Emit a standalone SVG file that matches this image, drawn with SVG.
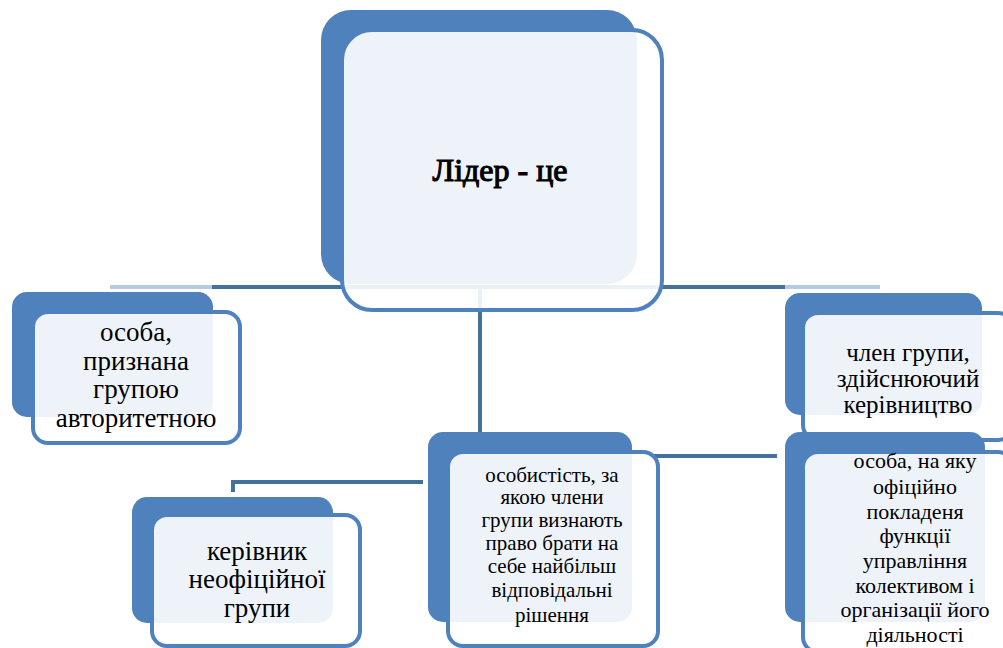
<svg xmlns="http://www.w3.org/2000/svg" width="1003" height="648" viewBox="0 0 1003 648">
<rect width="1003" height="648" fill="#FFFFFF"/>
<g id="connectors" fill="none" stroke-width="4">
<path stroke="#41719C" d="M212 287 H785"/>
<path stroke="#B7CAE2" d="M110 287 H212"/>
<path stroke="#B7CAE2" d="M785 287 H880"/>
<path stroke="#41719C" d="M480 287 V432"/>
<path stroke="#41719C" d="M652 456 H777"/>
<path stroke="#41719C" d="M423 482 H233 V492"/>
</g>
<g id="node-root">
<rect fill="#4F81BD" x="321" y="10" width="316" height="274" rx="30"/>
<rect fill="#FFFFFF" fill-opacity="0.9" stroke="#4F81BD" stroke-width="4" x="342" y="30" width="320" height="280" rx="30"/>
<text font-family="'Liberation Serif'" text-anchor="middle" x="500" y="181" font-size="32" stroke="#000" stroke-width="1.1">Лідер - це</text>
</g>
<g id="node-left">
<rect fill="#4F81BD" x="12" y="292" width="201" height="125" rx="15"/>
<rect fill="#FFFFFF" fill-opacity="0.9" stroke="#4F81BD" stroke-width="4" x="33" y="312" width="207" height="131" rx="15"/>
<text font-family="'Liberation Serif'" text-anchor="middle" font-size="27"><tspan font-family="'Liberation Serif'" x="136" y="341">особа,</tspan><tspan font-family="'Liberation Serif'" x="136" y="370">признана</tspan><tspan font-family="'Liberation Serif'" x="136" y="398">групою</tspan><tspan font-family="'Liberation Serif'" x="136" y="427">авторитетною</tspan></text>
</g>
<g id="node-right-top">
<rect fill="#4F81BD" x="785" y="293" width="197" height="122" rx="15"/>
<rect fill="#FFFFFF" fill-opacity="0.9" stroke="#4F81BD" stroke-width="4" x="803" y="313" width="210" height="127" rx="15"/>
<text font-family="'Liberation Serif'" text-anchor="middle" font-size="25"><tspan font-family="'Liberation Serif'" x="908" y="361">член групи,</tspan><tspan font-family="'Liberation Serif'" x="908" y="387">здійснюючий</tspan><tspan font-family="'Liberation Serif'" x="908" y="413">керівництво</tspan></text>
</g>
<g id="node-right-bottom">
<rect fill="#4F81BD" x="785" y="432" width="200" height="190" rx="15"/>
<rect fill="#FFFFFF" fill-opacity="0.9" stroke="#4F81BD" stroke-width="4" x="803" y="452" width="210" height="200" rx="15"/>
<text font-family="'Liberation Serif'" text-anchor="middle" font-size="22"><tspan font-family="'Liberation Serif'" x="915" y="468">особа, на яку</tspan><tspan font-family="'Liberation Serif'" x="915" y="494">офіційно</tspan><tspan font-family="'Liberation Serif'" x="915" y="519">покладеня</tspan><tspan font-family="'Liberation Serif'" x="915" y="543">функції</tspan><tspan font-family="'Liberation Serif'" x="915" y="568">управління</tspan><tspan font-family="'Liberation Serif'" x="915" y="593">колективом і</tspan><tspan font-family="'Liberation Serif'" x="915" y="617">організації його</tspan><tspan font-family="'Liberation Serif'" x="915" y="642">діяльності</tspan></text>
</g>
<g id="node-middle">
<rect fill="#4F81BD" x="428" y="432" width="204" height="190" rx="15"/>
<rect fill="#FFFFFF" fill-opacity="0.9" stroke="#4F81BD" stroke-width="4" x="448" y="452" width="210" height="194" rx="15"/>
<text font-family="'Liberation Serif'" text-anchor="middle" font-size="21"><tspan font-family="'Liberation Serif'" x="552" y="482">особистість, за</tspan><tspan font-family="'Liberation Serif'" x="552" y="504">якою члени</tspan><tspan font-family="'Liberation Serif'" x="552" y="527">групи визнають</tspan><tspan font-family="'Liberation Serif'" x="552" y="550">право брати на</tspan><tspan font-family="'Liberation Serif'" x="552" y="573">себе найбільш</tspan><tspan font-family="'Liberation Serif'" x="552" y="597">відповідальні</tspan><tspan font-family="'Liberation Serif'" x="552" y="622">рішення</tspan></text>
</g>
<g id="node-bottom-left">
<rect fill="#4F81BD" x="132" y="497" width="201" height="126" rx="15"/>
<rect fill="#FFFFFF" fill-opacity="0.9" stroke="#4F81BD" stroke-width="4" x="152" y="515" width="208" height="131" rx="15"/>
<text font-family="'Liberation Serif'" text-anchor="middle" font-size="27"><tspan font-family="'Liberation Serif'" x="257" y="560">керівник</tspan><tspan font-family="'Liberation Serif'" x="257" y="588">неофіційної</tspan><tspan font-family="'Liberation Serif'" x="257" y="617">групи</tspan></text>
</g>
</svg>
